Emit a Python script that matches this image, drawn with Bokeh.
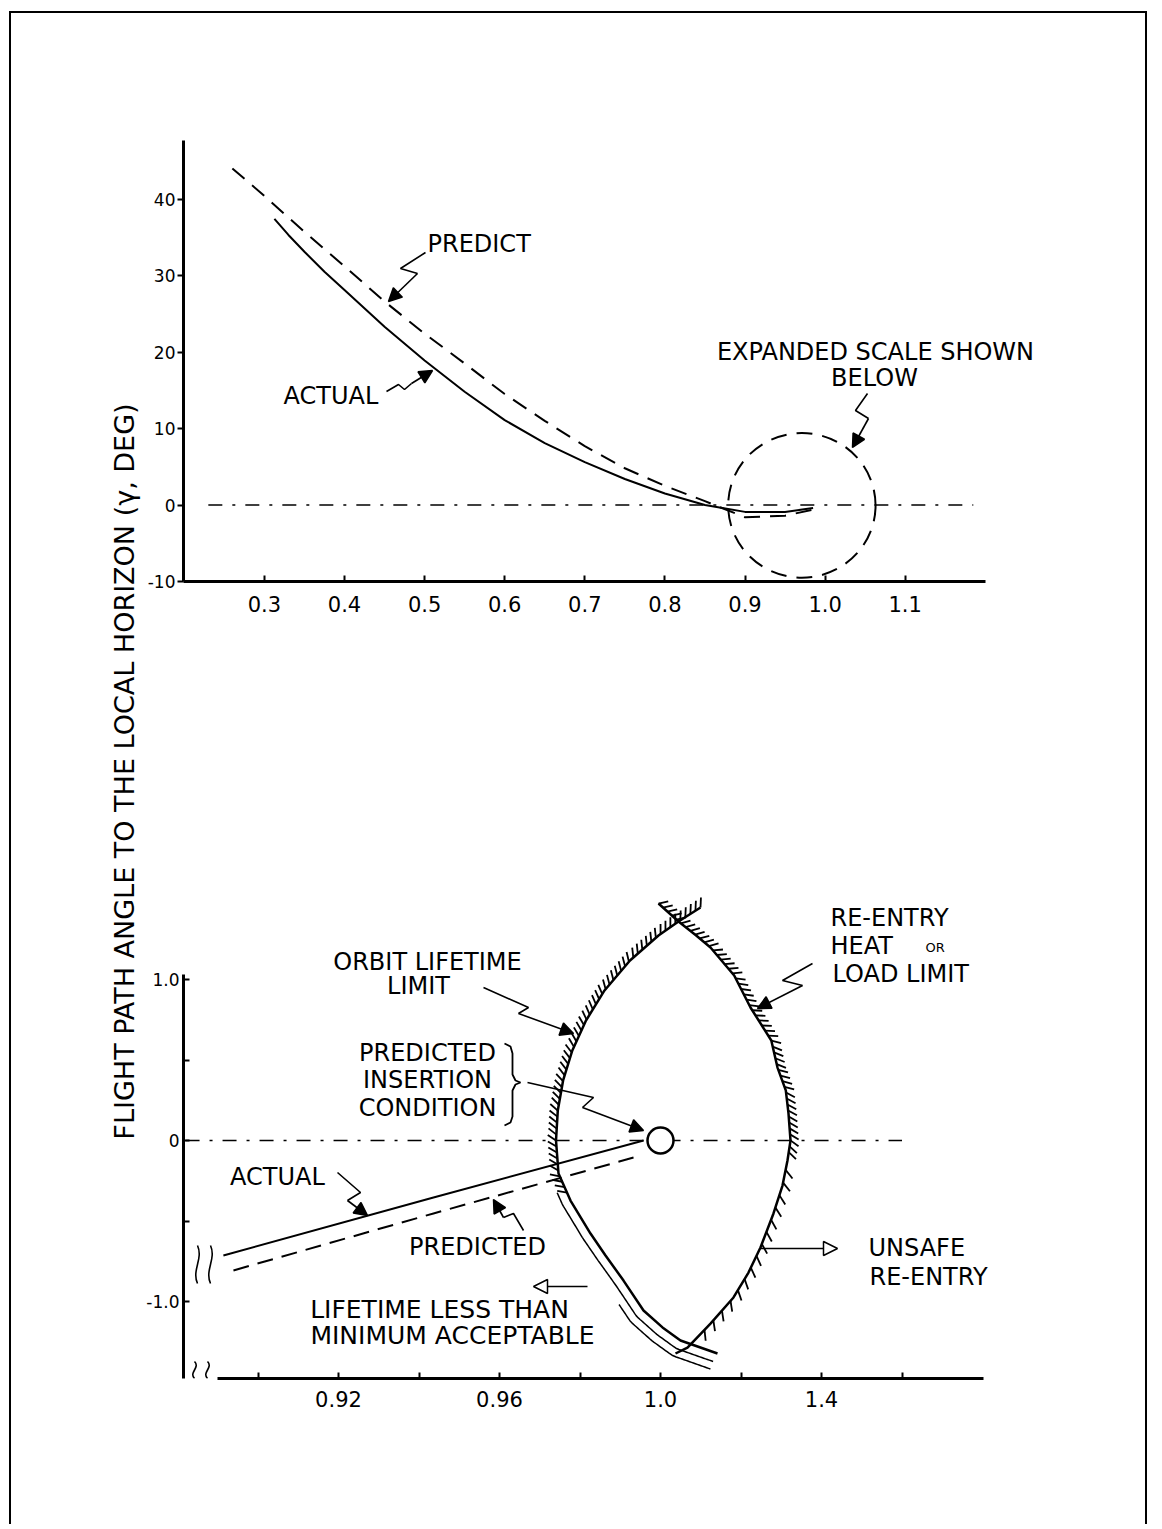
import numpy as np
from bokeh.plotting import figure
from bokeh.layouts import row, column
from bokeh.models import Label, Arrow, NormalHead, FixedTicker, Range1d
from bokeh.embed import file_html
from bokeh.resources import INLINE

FONT = "DejaVu Sans"

# ---------------- upper chart: data ----------------
top_x_ticks = [0.3, 0.4, 0.5, 0.6, 0.7, 0.8, 0.9, 1.0, 1.1]
top_x_labels = ["0.3", "0.4", "0.5", "0.6", "0.7", "0.8", "0.9", "1.0", "1.1"]
top_y_ticks = [-10, 0, 10, 20, 30, 40]
top_y_labels = ["-10", "0", "10", "20", "30", "40"]

predict_x = [0.26, 0.30, 0.35, 0.40, 0.45, 0.50, 0.55, 0.60, 0.65, 0.70, 0.75, 0.80, 0.85, 0.90, 0.95, 0.985]
predict_y = [44.0, 40.4, 35.7, 31.2, 26.6, 22.4, 18.5, 14.5, 11.0, 7.7, 4.8, 2.5, 0.5, -1.6, -1.4, -0.6]
actual_x = [0.3125, 0.33, 0.35, 0.375, 0.40, 0.45, 0.50, 0.55, 0.60, 0.65, 0.70, 0.75, 0.80, 0.85, 0.90, 0.95, 0.985]
actual_y = [37.4, 35.3, 33.1, 30.5, 28.1, 23.3, 18.9, 14.8, 11.1, 8.1, 5.6, 3.4, 1.5, 0.0, -0.9, -0.9, -0.4]

top_zero_span = [0.23, 1.185]
expanded_region_x = [0.879, 1.063]
expanded_region_y = [-9.5, 9.4]

# ---------------- lower chart: data ----------------
bot_x_ticks = [0.90, 0.92, 0.94, 0.96, 0.98, 1.00, 1.02, 1.04, 1.06]
bot_x_labels = ["", "0.92", "", "0.96", "", "1.0", "", "1.4", ""]
bot_y_ticks = [1.0, 0.5, 0.0, -0.5, -1.0]
bot_y_labels = ["1.0", "", "0", "", "-1.0"]

orbit_limit_x = [1.00994, 1.00447, 0.99950, 0.99242, 0.98609, 0.98149, 0.97809, 0.97580, 0.97448, 0.97404,
                 0.97466, 0.97764, 0.98261, 0.98634, 0.99081, 0.99578, 1.00050, 1.00497, 1.01416]
orbit_limit_y = [1.447, 1.360, 1.273, 1.118, 0.932, 0.745, 0.559, 0.373, 0.186, 0.0,
                 -0.205, -0.373, -0.578, -0.714, -0.870, -1.056, -1.161, -1.242, -1.323]
reentry_limit_x = [0.99950, 1.00447, 1.00887, 1.01242, 1.01831, 1.02236, 1.02753, 1.02907, 1.03113, 1.03180,
                   1.03230, 1.03155, 1.03031, 1.02807, 1.02484, 1.02186, 1.01814, 1.01242, 1.00671, 1.00373]
reentry_limit_y = [1.472, 1.360, 1.273, 1.199, 1.025, 0.826, 0.621, 0.453, 0.311, 0.168,
                   0.0, -0.124, -0.280, -0.453, -0.665, -0.820, -0.975, -1.137, -1.286, -1.323]

low_actual_x = [0.8914, 0.9436, 0.9958]
low_actual_y = [-0.714, -0.354, 0.0]
low_predicted_x = [0.8939, 0.9436, 0.9933]
low_predicted_y = [-0.807, -0.453, -0.106]

insertion_x = [1.0]
insertion_y = [0.0]
bot_zero_span = [0.882, 1.060]

# ---------------- layout geometry (page pixels) ----------------
ORG_X, ORG_Y = 11, 13          # content origin (after margin + border)
TITLE_W = 131
FIG_W = 1003
TOP_H = 668
BOT_H = 843
FRAME_L, FRAME_R = 183, 1130
TOP_FT, TOP_FB = 60, 581
BOT_FT, BOT_FB = 880, 1378
SPLIT_Y = ORG_Y + TOP_H

T_SX, T_SY = 801.0, 7.65      # px per data unit, upper chart
T_X0 = 0.199                  # data x at FRAME_L
B_SX, B_SY = 4025.0, 161.0    # px per data unit, lower chart
B_XC, B_YC = 660.0, 1140.0    # page px of (1.0, 0.0)


def tp(px, py):
    return T_X0 + (px - FRAME_L) / T_SX, -10 + (TOP_FB - py) / T_SY


def bp(px, py):
    return 1.0 + (px - B_XC) / B_SX, (B_YC - py) / B_SY


def style_axis(ax, size, standoff, tin, tout, ticks, labels):
    ax.ticker = FixedTicker(ticks=ticks)
    ax.major_label_overrides = {t: l for t, l in zip(ticks, labels)}
    ax.axis_line_width = 3
    ax.axis_line_color = "black"
    ax.major_tick_line_width = 2
    ax.major_tick_line_color = "black"
    ax.major_tick_in = tin
    ax.major_tick_out = tout
    ax.minor_tick_line_color = None
    ax.major_label_text_font = FONT
    ax.major_label_text_font_size = f"{size}px"
    ax.major_label_text_color = "black"
    ax.major_label_standoff = standoff


def base_fig(h, xr, yr, mtop, mbot):
    left0 = ORG_X + TITLE_W
    f = figure(width=FIG_W, height=h, x_range=xr, y_range=yr,
               output_backend="svg", toolbar_location=None,
               min_border_left=FRAME_L - left0, min_border_right=(left0 + FIG_W) - FRAME_R,
               min_border_top=mtop, min_border_bottom=mbot)
    f.grid.visible = False
    f.outline_line_color = None
    f.background_fill_color = "white"
    f.border_fill_color = "white"
    return f


def label(f, conv, px, py, text, size=24, align="left"):
    x, y = conv(px, py)
    f.add_layout(Label(x=x, y=y, text=text, text_font=FONT, text_font_size=f"{size}px",
                       text_align=align, text_baseline="middle", text_color="black"))


def leader(f, conv, pts, open_head=False, lw=1.6, size=13):
    xs, ys = zip(*[conv(*p) for p in pts])
    if len(pts) > 2:
        f.line(list(xs[:-1]), list(ys[:-1]), line_color="black", line_width=lw)
    head = NormalHead(size=size, fill_color="white" if open_head else "black",
                      line_color="black", line_width=1.5)
    f.add_layout(Arrow(end=head, x_start=xs[-2], y_start=ys[-2], x_end=xs[-1], y_end=ys[-1],
                       line_color="black", line_width=lw))


def arc_samples(xs, ys, step):
    X = np.asarray(xs) * B_SX
    Y = np.asarray(ys) * B_SY
    s = np.concatenate([[0.0], np.cumsum(np.hypot(np.diff(X), np.diff(Y)))])
    t = np.arange(0.0, s[-1], step)
    px, py = np.interp(t, s, X), np.interp(t, s, Y)
    a, b = np.minimum(t + 2.0, s[-1]), np.maximum(t - 2.0, 0)
    tx = np.interp(a, s, X) - np.interp(b, s, X)
    ty = np.interp(a, s, Y) - np.interp(b, s, Y)
    n = np.hypot(tx, ty)
    return px, py, tx / n, ty / n


def outward(tx, ty, sign):
    nx, ny = -ty, tx
    flip = np.sign(nx) * sign < 0
    return np.where(flip, -nx, nx), np.where(flip, -ny, ny)


def hatch(f, xs, ys, sign, y_hi, y_lo, step, length, rot_deg, lw=1.8):
    px, py, tx, ty = arc_samples(xs, ys, step)
    nx, ny = outward(tx, ty, sign)
    a = np.radians(rot_deg)
    rx = nx * np.cos(a) - ny * np.sin(a)
    ry = nx * np.sin(a) + ny * np.cos(a)
    yd = py / B_SY
    m = (yd <= y_hi) & (yd >= y_lo)
    f.segment(x0=list(px[m] / B_SX), y0=list(py[m] / B_SY),
              x1=list((px[m] + rx[m] * length) / B_SX), y1=list((py[m] + ry[m] * length) / B_SY),
              line_color="black", line_width=lw)


def offset_line(f, xs, ys, sign, y_hi, y_lo, d, lw=1.5):
    px, py, tx, ty = arc_samples(xs, ys, 2.0)
    nx, ny = outward(tx, ty, sign)
    yd = py / B_SY
    m = (yd <= y_hi) & (yd >= y_lo)
    f.line(list((px[m] + nx[m] * d) / B_SX), list((py[m] + ny[m] * d) / B_SY),
           line_color="black", line_width=lw)


def squiggle(f, conv, px, py0, py1, w=6):
    x0, y0 = conv(px, py0)
    x1, y1 = conv(px, py1)
    c0 = conv(px + w, py0 + (py1 - py0) * 0.35)
    c1 = conv(px - w, py0 + (py1 - py0) * 0.65)
    f.bezier(x0=[x0], y0=[y0], x1=[x1], y1=[y1], cx0=[c0[0]], cy0=[c0[1]], cx1=[c1[0]], cy1=[c1[1]],
             line_color="black", line_width=1.6)


# ================= title figure =================
tfig = figure(width=TITLE_W, height=TOP_H + BOT_H, x_range=Range1d(ORG_X, ORG_X + TITLE_W),
              y_range=Range1d(ORG_Y + TOP_H + BOT_H, ORG_Y), output_backend="svg",
              toolbar_location=None, min_border=0, x_axis_type=None, y_axis_type=None)
tfig.grid.visible = False
tfig.outline_line_color = None
tfig.border_fill_color = "white"
tfig.add_layout(Label(x=124, y=771, text="FLIGHT PATH ANGLE TO THE LOCAL HORIZON (\u03b3, DEG)",
                      angle=np.pi / 2, text_align="center", text_baseline="middle",
                      text_font=FONT, text_font_size="27px", text_color="black"))

# ================= upper chart =================
top = base_fig(TOP_H,
               Range1d(T_X0, T_X0 + (FRAME_R - FRAME_L) / T_SX),
               Range1d(-10, -10 + (TOP_FB - TOP_FT) / T_SY),
               TOP_FT - ORG_Y, SPLIT_Y - TOP_FB)
style_axis(top.xaxis[0], 21, 14, 6, 0, top_x_ticks, top_x_labels)
style_axis(top.yaxis[0], 17, 2, 0, 6, top_y_ticks, top_y_labels)
top.xaxis.bounds = (T_X0, 1.2)
top.yaxis.bounds = (-10, 47.6)

top.line(top_zero_span, [0, 0], line_color="black", line_width=1.5, line_dash="14 10 3 10")
top.line(predict_x, predict_y, line_color="black", line_width=2, line_dash="16 10")
top.line(actual_x, actual_y, line_color="black", line_width=2)
top.ellipse(x=[sum(expanded_region_x) / 2], y=[sum(expanded_region_y) / 2],
            width=[expanded_region_x[1] - expanded_region_x[0]],
            height=[expanded_region_y[1] - expanded_region_y[0]],
            fill_color=None, line_color="black", line_width=2, line_dash="16 10")

label(top, tp, 427, 243, "PREDICT")
leader(top, tp, [(425, 252), (400, 268), (417, 273), (388, 301)])
label(top, tp, 283, 395, "ACTUAL")
leader(top, tp, [(386, 391), (398, 384), (404, 389), (411, 383), (432, 370)])
label(top, tp, 875, 351, "EXPANDED SCALE SHOWN", align="center")
label(top, tp, 874, 377, "BELOW", align="center")
leader(top, tp, [(867, 393), (855, 410), (868, 418), (852, 447)])

label(top, tp, 527, 635, "V", 20)
label(top, tp, 543, 650, "i", 15)
label(top, tp, 567, 636, "/", 20)
label(top, tp, 583, 636, "V", 22)
label(top, tp, 611, 649, "R", 19)

# ================= lower chart =================
bot = base_fig(BOT_H,
               Range1d(1.0 + (FRAME_L - B_XC) / B_SX, 1.0 + (FRAME_R - B_XC) / B_SX),
               Range1d((B_YC - BOT_FB) / B_SY, (B_YC - BOT_FT) / B_SY),
               BOT_FT - SPLIT_Y, ORG_Y + TOP_H + BOT_H - BOT_FB)
style_axis(bot.xaxis[0], 21, 12, 6, 0, bot_x_ticks, bot_x_labels)
style_axis(bot.yaxis[0], 17, 4, 6, 0, bot_y_ticks, bot_y_labels)
bot.xaxis.bounds = (1.0 + (217 - B_XC) / B_SX, 1.0802)
bot.yaxis.bounds = ((B_YC - BOT_FB) / B_SY, 1.03)

bot.line(bot_zero_span, [0, 0], line_color="black", line_width=1.5, line_dash="14 10 3 10")

# lens boundaries
bot.line(orbit_limit_x, orbit_limit_y, line_color="black", line_width=2.5)
bot.line(reentry_limit_x, reentry_limit_y, line_color="black", line_width=2.5)
hatch(bot, orbit_limit_x, orbit_limit_y, -1, 1.45, -0.33, 6.0, 10.0, -35)
hatch(bot, reentry_limit_x, reentry_limit_y, +1, 1.48, -0.08, 6.0, 10.0, -35)
hatch(bot, reentry_limit_x, reentry_limit_y, +1, -0.12, -1.22, 13.0, 11.0, -40)
offset_line(bot, orbit_limit_x, orbit_limit_y, -1, -0.30, -1.32, 9.0)
offset_line(bot, orbit_limit_x, orbit_limit_y, -1, -0.95, -1.34, 17.0)

# trajectories
bot.line(low_actual_x, low_actual_y, line_color="black", line_width=2)
bot.line(low_predicted_x, low_predicted_y, line_color="black", line_width=2, line_dash="16 9")
bot.scatter(insertion_x, insertion_y, marker="circle", size=26, fill_color="white",
            line_color="black", line_width=2.5)

# break marks
squiggle(bot, bp, 197, 1245, 1283)
squiggle(bot, bp, 210, 1245, 1283)
squiggle(bot, bp, 194, 1361, 1378)
squiggle(bot, bp, 207, 1361, 1378)

# brace
brace = [(504, 1043), (510, 1046), (512, 1053), (512, 1074), (515, 1080), (520, 1082), (515, 1084),
         (512, 1090), (512, 1116), (510, 1122), (504, 1125)]
bx, by = zip(*[bp(*q) for q in brace])
bot.line(list(bx), list(by), line_color="black", line_width=1.8)

# annotations
label(bot, bp, 427, 961, "ORBIT LIFETIME", align="center")
label(bot, bp, 418, 985, "LIMIT", align="center")
leader(bot, bp, [(483, 987), (528, 1007), (518, 1013), (573, 1033)])
label(bot, bp, 427, 1052, "PREDICTED", align="center")
label(bot, bp, 427, 1079, "INSERTION", align="center")
label(bot, bp, 427, 1107, "CONDITION", align="center")
leader(bot, bp, [(527, 1082), (593, 1097), (582, 1107), (643, 1130)])
label(bot, bp, 277, 1176, "ACTUAL", align="center")
leader(bot, bp, [(337, 1172), (360, 1192), (347, 1200), (367, 1215)])
label(bot, bp, 477, 1246, "PREDICTED", align="center")
leader(bot, bp, [(523, 1230), (513, 1213), (503, 1217), (493, 1199)])
leader(bot, bp, [(587, 1286), (533, 1286)], open_head=True, size=14)
label(bot, bp, 439, 1309, "LIFETIME LESS THAN", 25, align="center")
label(bot, bp, 452, 1335, "MINIMUM ACCEPTABLE", 25, align="center")
label(bot, bp, 830, 917, "RE-ENTRY")
label(bot, bp, 830, 945, "HEAT")
label(bot, bp, 925, 947, "OR", 13)
label(bot, bp, 832, 973, "LOAD LIMIT")
leader(bot, bp, [(812, 963), (782, 980), (802, 985), (757, 1008)])
label(bot, bp, 868, 1247, "UNSAFE")
label(bot, bp, 869, 1276, "RE-ENTRY")
leader(bot, bp, [(760, 1248), (837, 1248)], open_head=True, size=14)

label(bot, bp, 542, 1435, "V", 20)
label(bot, bp, 558, 1447, "i", 15)
label(bot, bp, 576, 1435, "/", 20)
label(bot, bp, 596, 1435, "V", 22)
label(bot, bp, 615, 1446, "R", 19)

layout = row(tfig, column(top, bot),
             styles={"margin-left": f"{ORG_X - 2}px", "margin-top": f"{ORG_Y - 2}px",
                     "border-top": "2px solid black", "border-left": "2px solid black",
                     "border-right": "2px solid black"})

open("out.html", "w").write(file_html(layout, INLINE))
